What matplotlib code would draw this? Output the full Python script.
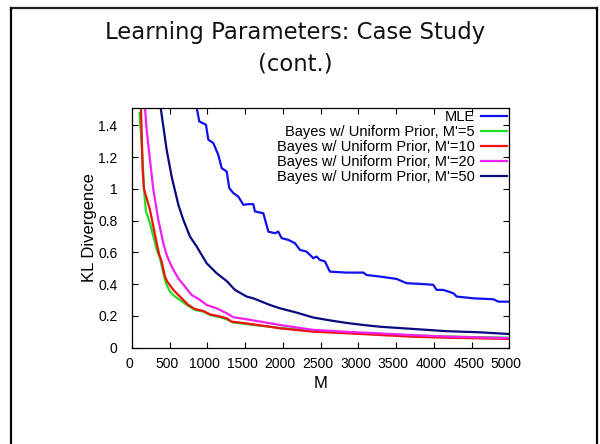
import matplotlib
matplotlib.use("Agg")
import matplotlib.pyplot as plt
import matplotlib.transforms as mtransforms

# values
mle_m = [830, 857, 892, 980, 1011, 1077, 1143, 1188, 1254, 1289, 1342, 1408, 1475,
         1541, 1607, 1629, 1740, 1806, 1894, 1938, 1982, 2071, 2159, 2225, 2313,
         2402, 2446, 2490, 2556, 2622, 2843, 3064, 3108, 3285, 3506, 3638, 3815,
         3992, 4036, 4125, 4257, 4302, 4523, 4788, 4854, 5000]
mle_kl = [1.60, 1.51, 1.425, 1.404, 1.31, 1.289, 1.215, 1.131, 1.11, 1.005, 0.974,
          0.952, 0.900, 0.904, 0.904, 0.858, 0.847, 0.731, 0.721, 0.731, 0.690,
          0.679, 0.658, 0.616, 0.605, 0.564, 0.574, 0.553, 0.543, 0.479, 0.473,
          0.473, 0.458, 0.448, 0.433, 0.406, 0.402, 0.396, 0.364, 0.364, 0.343,
          0.322, 0.311, 0.305, 0.290, 0.290]

m5_m = [100, 141, 159, 185, 238, 283, 327, 371, 415, 450, 503, 570, 636, 724, 834,
        945, 1033, 1166, 1254, 1342, 1430, 1607, 1828, 1960, 2402, 2843, 3285,
        3726, 4168, 4609, 5000]
m5_kl = [1.478, 1.183, 0.994, 0.858, 0.784, 0.700, 0.616, 0.564, 0.469, 0.406,
         0.353, 0.322, 0.301, 0.269, 0.238, 0.227, 0.206, 0.192, 0.179, 0.158,
         0.154, 0.143, 0.132, 0.125, 0.104, 0.094, 0.085, 0.077, 0.071, 0.066, 0.063]

m10_m = [100, 119, 141, 159, 194, 238, 283, 327, 362, 393, 437, 468, 548, 614, 680,
         746, 834, 945, 1033, 1166, 1254, 1320, 1430, 1607, 1828, 1960, 2402, 2843,
         3285, 3726, 4168, 5000]
m10_kl = [1.62, 1.51, 1.12, 1.0, 0.942, 0.868, 0.763, 0.658, 0.584, 0.542, 0.448,
          0.416, 0.364, 0.332, 0.301, 0.269, 0.244, 0.231, 0.210, 0.196, 0.185,
          0.164, 0.158, 0.147, 0.132, 0.122, 0.101, 0.091, 0.080, 0.069, 0.063, 0.055]

m20_m = [160, 172, 194, 238, 283, 349, 415, 459, 525, 613, 702, 790, 901, 989, 1121,
         1254, 1342, 1519, 1828, 1960, 2402, 2843, 3285, 3726, 4168, 5000]
m20_kl = [1.58, 1.51, 1.372, 1.183, 0.994, 0.805, 0.658, 0.584, 0.511, 0.437, 0.385,
          0.332, 0.301, 0.269, 0.248, 0.217, 0.192, 0.179, 0.154, 0.143, 0.112,
          0.100, 0.090, 0.079, 0.070, 0.060]

m50_m = [370, 380, 459, 525, 614, 680, 768, 857, 989, 1121, 1254, 1364, 1519, 1607,
         1828, 1961, 2181, 2402, 2622, 2843, 3064, 3285, 3726, 4168, 4609, 5000]
m50_kl = [1.56, 1.51, 1.247, 1.078, 0.90, 0.805, 0.700, 0.637, 0.532, 0.469, 0.420,
          0.364, 0.322, 0.311, 0.269, 0.248, 0.221, 0.190, 0.172, 0.156, 0.143,
          0.132, 0.118, 0.104, 0.097, 0.086]

x_ticks = [0, 500, 1000, 1500, 2000, 2500, 3000, 3500, 4000, 4500, 5000]
y_ticks = [0, 0.2, 0.4, 0.6, 0.8, 1.0, 1.2, 1.4]
y_tick_labels = ["0", "0.2", "0.4", "0.6", "0.8", "1", "1.2", "1.4"]

series = [
    (mle_m, mle_kl, "MLE", "#1010f0"),
    (m5_m, m5_kl, "Bayes w/ Uniform Prior, M'=5", "#20e020"),
    (m10_m, m10_kl, "Bayes w/ Uniform Prior, M'=10", "#f01010"),
    (m20_m, m20_kl, "Bayes w/ Uniform Prior, M'=20", "#f020f0"),
    (m50_m, m50_kl, "Bayes w/ Uniform Prior, M'=50", "#0a0a80"),
]

plt.rcParams['font.family'] = ['Liberation Sans', 'DejaVu Sans']

fig = plt.figure(figsize=(6, 4.44), dpi=100)

# slide frame (top, left, right edges)
fig.add_artist(plt.Line2D([0.0183, 0.9958], [0.983, 0.983], transform=fig.transFigure,
                          color="#202020", lw=1.6))
fig.add_artist(plt.Line2D([0.0183, 0.0183], [0.0, 0.983], transform=fig.transFigure,
                          color="black", lw=1.6))
fig.add_artist(plt.Line2D([0.9958, 0.9958], [0.0, 0.983], transform=fig.transFigure,
                          color="black", lw=1.6))

fig.text(0.4925, 0.912, "Learning Parameters: Case Study", ha="center", va="baseline",
         fontsize=16.4, family="DejaVu Sans", color="#111111")
fig.text(0.4925, 0.842, "(cont.)", ha="center", va="baseline",
         fontsize=16.4, family="DejaVu Sans", color="#111111")

ax = fig.add_axes([0.22, 0.2169, 0.629, 0.540])
for xs, ys, lab, col in series:
    ax.plot(xs, ys, color=col, lw=1.6, label=lab)

ax.set_xlim(0, 5000)
ax.set_ylim(0, 1.51)
ax.set_xticks(x_ticks)
ax.set_yticks(y_ticks)
ax.set_yticklabels(y_tick_labels)
ax.tick_params(direction="in", top=True, right=True, length=4, width=0.8,
               labelsize=10)
ax.tick_params(axis="y", pad=10.5)
ax.tick_params(axis="x", pad=6.5)
for s in ax.spines.values():
    s.set_linewidth(0.9)

shift = mtransforms.ScaledTranslation(-0.03, 0, fig.dpi_scale_trans)
for lbl in ax.get_xticklabels():
    lbl.set_transform(lbl.get_transform() + shift)

ax.set_xlabel("M", fontsize=12, labelpad=4)
ax.set_ylabel("KL Divergence", fontsize=12, labelpad=1)

ax.legend(loc="upper right", bbox_to_anchor=(1.0, 1.0), frameon=False,
          markerfirst=False, fontsize=10.5, handlelength=1.8, handletextpad=0.45,
          labelspacing=0.07, borderaxespad=0.0, borderpad=0.15)

fig.savefig("out.png", dpi=100)
